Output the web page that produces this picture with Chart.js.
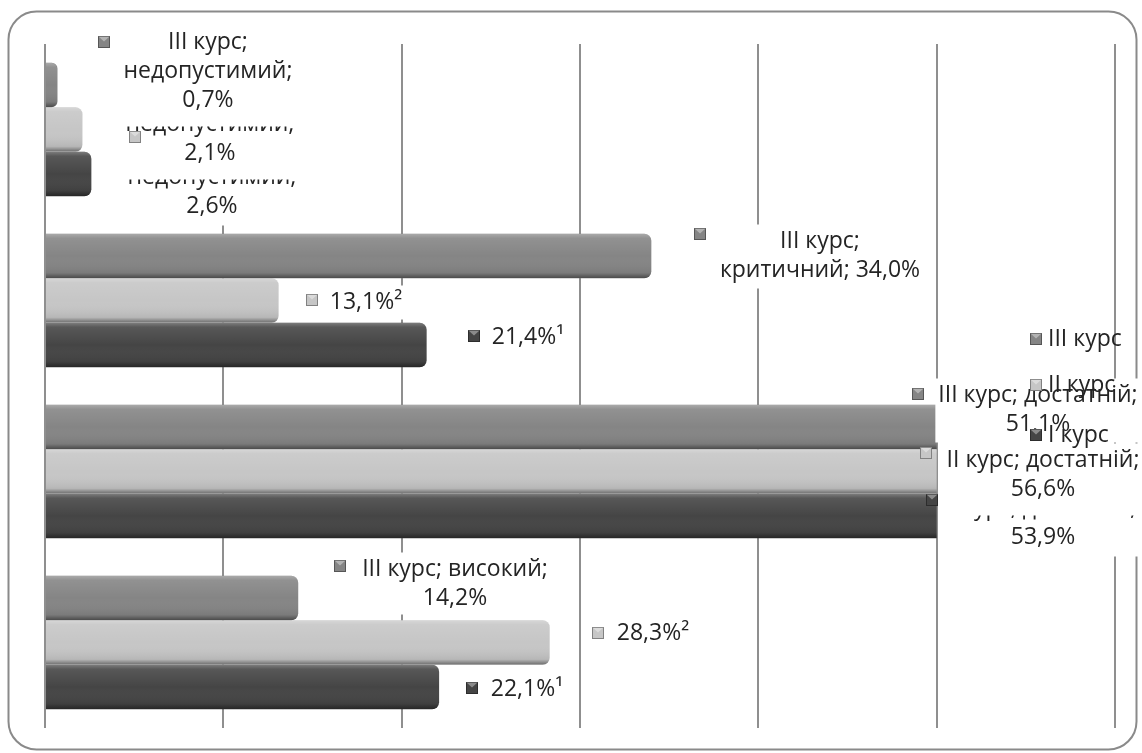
<!DOCTYPE html>
<html>
<head>
<meta charset="utf-8">
<script src="https://cdn.jsdelivr.net/npm/chart.js@4.4.1/dist/chart.umd.min.js"></script>
<style>
  html, body { margin: 0; padding: 0; background: #ffffff; }
  canvas { display: block; }
</style>
</head>
<body>
<canvas id="chart" width="1142" height="753"></canvas>
<script>
// ---- data -------------------------------------------------------------
const categories = ['недопустимий', 'критичний', 'достатній', 'високий'];
const seriesNames = ['III курс', 'II курс', 'I курс'];
const course3 = [0.7, 34.0, 51.1, 14.2];
const course2 = [2.1, 13.1, 56.6, 28.3];
const course1 = [2.6, 21.4, 53.9, 22.1];
// significance marks printed after some values
const course3Marks = ['', '', '', ''];
const course2Marks = ['', '²', '', '²'];
const course1Marks = ['', '¹', '', '¹'];
// value axis: 0..60 %, gridline every 10 %, bars are cut at 50 %
const axisMin = 0;
const axisMax = 60;
const axisStep = 10;
const barCap = 50;

// ---- styles -----------------------------------------------------------
const seriesColors = ['#858585', '#c6c6c6', '#454545'];
const textColor = '#242424';
const fontFamily = '"Open Sans", "Noto Sans", sans-serif';
const fontSize = 23;
const lineHeight = 29;
const barRadius = 7;

// label layout, offsets from the top-left corner of the plot area.
// parts: 0 = series name, 1 = category, 2 = value; groups = one text line each.
// pb = extra white space under the label box.
// Drawn in order, so later boxes cover earlier ones.
const labelLayout = [
  { s: 2, c: 0, groups: [[0], [1], [2]], cx: 167, y: 104, mx: 93, my: 106, pb: 5 },
  { s: 1, c: 0, groups: [[0], [1], [2]], cx: 165, y: 51, mx: 90, my: 93, pb: 12 },
  { s: 0, c: 0, groups: [[0], [1], [2]], cx: 163, y: -2, mx: 59, my: -2, pb: 12 },
  { s: 2, c: 1, groups: [[2]], cx: 483, y: 293, mx: 429, my: 292, pb: 3 },
  { s: 1, c: 1, groups: [[2]], cx: 321, y: 258, mx: 267, my: 256, pb: 3 },
  { s: 0, c: 1, groups: [[0], [1, 2]], cx: 775, y: 197, mx: 655, my: 190, pb: 4 },
  { s: 2, c: 2, groups: [[0, 1], [2]], cx: 998, y: 464, mx: 887, my: 456, pb: 5 },
  { s: 1, c: 2, groups: [[0, 1], [2]], cx: 998, y: 416, mx: 881, my: 409, pb: 12 },
  { s: 0, c: 2, groups: [[0, 1], [2]], cx: 993, y: 351, mx: 873, my: 350, pb: 4 },
  { s: 2, c: 3, groups: [[2]], cx: 482, y: 645, mx: 427, my: 644, pb: 3 },
  { s: 1, c: 3, groups: [[2]], cx: 608, y: 589, mx: 553, my: 589, pb: 3 },
  { s: 0, c: 3, groups: [[0, 1], [2]], cx: 410, y: 525, mx: 295, my: 522, pb: 2 }
];
const legendLayout = { mx: 991, ys: [295, 341, 391], tx: 1003 };

const seriesValues = [course3, course2, course1];
const seriesMarks = [course3Marks, course2Marks, course1Marks];

function formatValue(v, mark) {
  return v.toFixed(1).replace('.', ',') + '%' + mark;
}

function drawKey(ctx, cx, cy, color) {
  const s = 12;
  const x = Math.round(cx - s / 2), y = Math.round(cy - s / 2);
  ctx.fillStyle = color;
  ctx.fillRect(x, y, s, s);
  // bevel highlight
  ctx.fillStyle = 'rgba(255,255,255,0.38)';
  ctx.beginPath();
  ctx.moveTo(x, y);
  ctx.lineTo(x + s, y);
  ctx.lineTo(x + s / 2, y + s * 0.45);
  ctx.closePath();
  ctx.fill();
  ctx.strokeStyle = 'rgba(0,0,0,0.35)';
  ctx.lineWidth = 1;
  ctx.strokeRect(x + 0.5, y + 0.5, s - 1, s - 1);
}

// white page with the rounded frame
const framePlugin = {
  id: 'frame',
  beforeDraw(chart) {
    const ctx = chart.ctx;
    ctx.save();
    ctx.fillStyle = '#ffffff';
    ctx.fillRect(0, 0, chart.width, chart.height);
    ctx.beginPath();
    ctx.roundRect(8.5, 11.5, chart.width - 14, chart.height - 15, 28);
    ctx.strokeStyle = '#8a8a8a';
    ctx.lineWidth = 2;
    ctx.stroke();
    ctx.restore();
  }
};

// cut bars at the cap value and give them a cylinder-like shading
const barShadePlugin = {
  id: 'barShade',
  beforeDatasetsDraw(chart) {
    const { ctx, chartArea: a, scales } = chart;
    const capX = scales.x.getPixelForValue(barCap);
    ctx.save();
    ctx.beginPath();
    ctx.rect(a.left - 2, a.top, capX - a.left + 2, a.bottom - a.top);
    ctx.clip();
  },
  afterDatasetsDraw(chart) {
    const ctx = chart.ctx;
    chart.data.datasets.forEach((ds, di) => {
      chart.getDatasetMeta(di).data.forEach(el => {
        const { x, y, base, height } = el.getProps(['x', 'y', 'base', 'height'], true);
        const top = y - height / 2;
        const r = Math.min(barRadius, height / 2);
        ctx.save();
        ctx.beginPath();
        ctx.roundRect(base, top, x - base, height, [0, r, r, 0]);
        ctx.clip();
        const g = ctx.createLinearGradient(0, top, 0, top + height);
        g.addColorStop(0, 'rgba(255,255,255,0.30)');
        g.addColorStop(0.1, 'rgba(255,255,255,0.10)');
        g.addColorStop(0.5, 'rgba(255,255,255,0)');
        g.addColorStop(0.88, 'rgba(0,0,0,0.08)');
        g.addColorStop(0.95, 'rgba(0,0,0,0.30)');
        g.addColorStop(1, 'rgba(0,0,0,0.45)');
        ctx.fillStyle = g;
        ctx.fillRect(base, top, x - base, height);
        ctx.restore();
      });
    });
    ctx.restore();
  }
};

// data labels with legend keys, plus the series key list on the right
const labelPlugin = {
  id: 'dataLabels',
  afterDraw(chart) {
    const { ctx, chartArea: a } = chart;
    ctx.save();
    ctx.font = fontSize + 'px ' + fontFamily;
    ctx.textBaseline = 'middle';
    labelLayout.forEach(L => {
      const parts = [
        seriesNames[L.s] + ';',
        categories[L.c] + ';',
        formatValue(seriesValues[L.s][L.c], seriesMarks[L.s][L.c])
      ];
      const lines = L.groups.map(g => g.map(i => parts[i]).join(' '));
      const cx = a.left + L.cx;
      const y0 = a.top + L.y;
      const w = Math.max(...lines.map(t => ctx.measureText(t).width));
      const top = y0 - lineHeight / 2 - 2;
      const bottom = y0 + (lines.length - 1) * lineHeight + lineHeight / 2 + L.pb;
      ctx.fillStyle = '#ffffff';
      ctx.fillRect(cx - w / 2 - 3, top, w + 6, bottom - top);
      ctx.fillStyle = textColor;
      ctx.textAlign = 'center';
      lines.forEach((t, i) => ctx.fillText(t, cx, y0 + i * lineHeight));
      drawKey(ctx, a.left + L.mx, a.top + L.my, seriesColors[L.s]);
    });
    // series keys
    ctx.textAlign = 'left';
    seriesNames.forEach((name, i) => {
      const y = a.top + legendLayout.ys[i];
      drawKey(ctx, a.left + legendLayout.mx, y, seriesColors[i]);
      ctx.fillStyle = textColor;
      ctx.fillText(name, a.left + legendLayout.tx, y);
    });
    ctx.restore();
  }
};

new Chart(document.getElementById('chart'), {
  type: 'bar',
  data: {
    labels: categories,
    datasets: seriesNames.map((name, i) => ({
      label: name,
      data: seriesValues[i],
      backgroundColor: seriesColors[i],
      borderWidth: 0,
      borderRadius: barRadius,
      borderSkipped: 'start',
      categoryPercentage: 0.78,
      barPercentage: 1.0
    }))
  },
  options: {
    indexAxis: 'y',
    responsive: false,
    animation: false,
    devicePixelRatio: 1,
    layout: { padding: { left: 45, right: 27, top: 44, bottom: 25 } },
    plugins: {
      legend: { display: false },
      tooltip: { enabled: false },
      title: { display: false }
    },
    scales: {
      x: {
        min: axisMin,
        max: axisMax,
        ticks: { display: false, stepSize: axisStep },
        grid: { color: '#8f8f8f', lineWidth: 2, drawTicks: false },
        border: { display: false }
      },
      y: { display: false }
    }
  },
  plugins: [framePlugin, barShadePlugin, labelPlugin]
});
</script>
</body>
</html>
